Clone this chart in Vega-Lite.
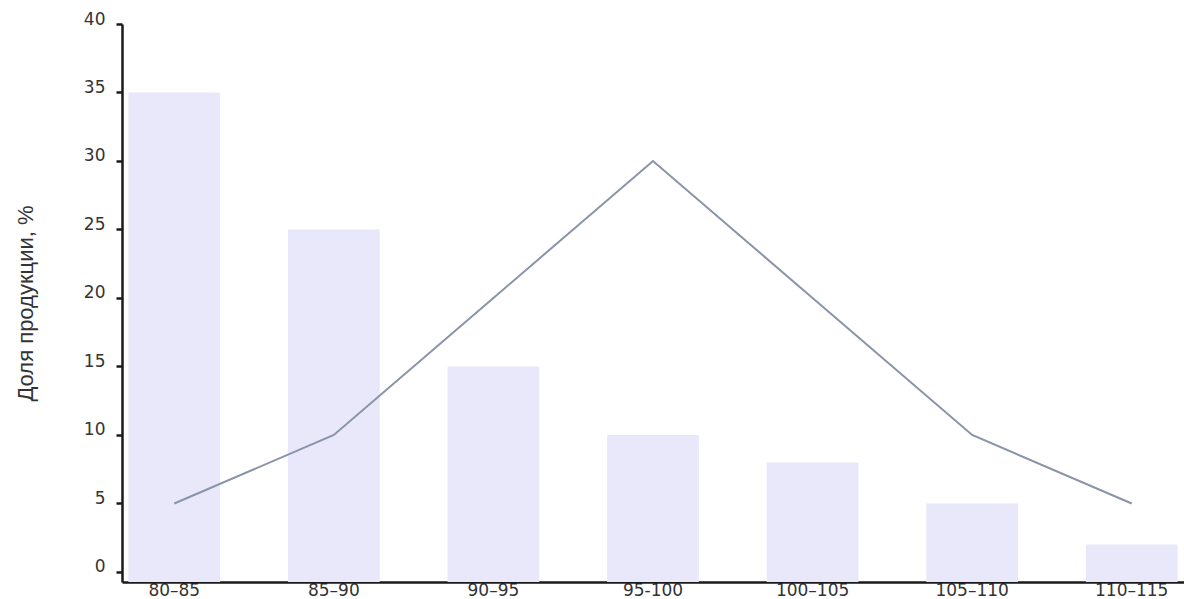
{
  "$schema": "https://vega.github.io/schema/vega-lite/v6.json",
  "width": 1062,
  "height": 558,
  "autosize": "none",
  "padding": {"left": 122, "top": 24, "right": 0, "bottom": 17},
  "background": "white",
  "config": {"view": {"stroke": null}},
  "data": {
    "values": [
      {"range": "80–85", "bar": 35, "line": 5},
      {"range": "85–90", "bar": 25, "line": 10},
      {"range": "90–95", "bar": 15, "line": 20},
      {"range": "95-100", "bar": 10, "line": 30},
      {"range": "100–105", "bar": 8, "line": 20},
      {"range": "105–110", "bar": 5, "line": 10},
      {"range": "110–115", "bar": 2, "line": 5}
    ]
  },
  "encoding": {
    "x": {
      "field": "range",
      "type": "nominal",
      "sort": null,
      "scale": {"paddingInner": 0.425, "paddingOuter": 0.04},
      "axis": {
        "title": null,
        "labelAngle": 0,
        "ticks": false,
        "labelPadding": 0,
        "labelFont": "DejaVu Sans",
        "labelFontSize": 17,
        "labelColor": "#333333",
        "domainColor": "#1a1a1a",
        "domainWidth": 2.5,
        "grid": false
      }
    }
  },
  "layer": [
    {
      "mark": {"type": "bar", "color": "#e8e8fa"},
      "encoding": {
        "y": {
          "field": "bar",
          "type": "quantitative",
          "scale": {"domain": [-0.73, 40], "nice": false, "zero": false},
          "axis": {
            "values": [0, 5, 10, 15, 20, 25, 30, 35, 40],
            "title": "Доля продукции, %",
            "titleFont": "Liberation Sans",
            "titleFontSize": 22,
            "titleFontWeight": "normal",
            "titleColor": "#333333",
            "titlePadding": 46,
            "labelFont": "DejaVu Sans",
            "labelFontSize": 17,
            "labelColor": "#333333",
            "labelPadding": 11,
            "labelBaseline": "alphabetic",
            "tickSize": 6,
            "tickWidth": 2.5,
            "tickColor": "#1a1a1a",
            "domainColor": "#1a1a1a",
            "domainWidth": 2.5,
            "grid": false
          }
        },
        "y2": {"datum": -0.73}
      }
    },
    {
      "mark": {"type": "line", "color": "#8a94a8", "strokeWidth": 2},
      "encoding": {
        "y": {"field": "line", "type": "quantitative"}
      }
    }
  ]
}
